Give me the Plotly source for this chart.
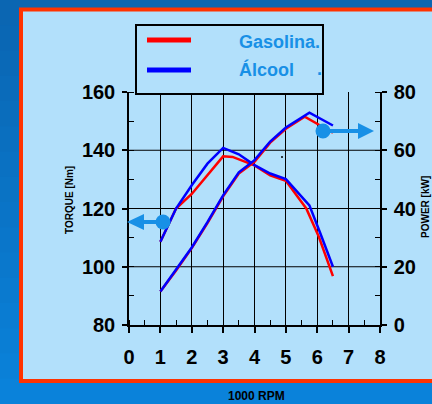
import plotly.graph_objects as go

# ---------------- data ----------------
series_names = ["Gasolina.", "Álcool"]
series_colors = ["#ff0000", "#0000ff"]

rpm_torque_gas = [1.0, 1.5, 2.0, 2.5, 3.0, 3.3, 4.0, 4.5, 5.0, 5.65, 6.05, 6.5]
torque_gas = [108.6, 120.0, 125.0, 131.5, 137.9, 137.7, 134.8, 131.4, 129.5, 120.0, 110.3, 96.8]

rpm_torque_alc = [1.0, 1.5, 2.0, 2.5, 3.0, 3.5, 4.0, 4.5, 5.0, 5.75, 6.1, 6.5]
torque_alc = [108.6, 120.0, 128.0, 135.4, 140.8, 138.6, 134.9, 132.0, 130.1, 121.1, 111.4, 100.0]

rpm_power_gas = [1.0, 1.5, 2.0, 2.5, 3.0, 3.5, 4.0, 4.5, 5.0, 5.6, 6.5]
power_gas = [11.5, 18.7, 26.4, 35.0, 44.2, 52.0, 56.0, 62.6, 67.4, 71.5, 66.0]

rpm_power_alc = [1.0, 1.5, 2.0, 2.5, 3.0, 3.5, 4.0, 4.5, 5.0, 5.75, 6.5]
power_alc = [11.5, 18.9, 26.6, 35.3, 44.5, 52.4, 56.6, 63.0, 67.8, 72.9, 68.5]

x_ticks = [0, 1, 2, 3, 4, 5, 6, 7, 8]
torque_ticks = [80, 100, 120, 140, 160]
power_ticks = [0, 20, 40, 60, 80]
torque_grid = [100, 120, 140]

x_title = "1000 RPM"
y_title = "TORQUE [Nm]"
y2_title = "POWER [kW]"

# ---------------- layout geometry (pixels) ----------------
WIDTH, HEIGHT = 432, 404
L, R, T, B = 129, 380, 92, 325
PW, PH = R - L, B - T


def px(xp):
    return (xp - L) / PW


def py(yp):
    return (B - yp) / PH


FILL = "#b2e0fb"
ARROW = "#1890e6"
SANS = "Liberation Sans, Arial, Helvetica"

fig = go.Figure()

traces = [
    (rpm_torque_gas, torque_gas, 0, "y"),
    (rpm_power_gas, power_gas, 0, "y2"),
    (rpm_torque_alc, torque_alc, 1, "y"),
    (rpm_power_alc, power_alc, 1, "y2"),
]
for xs, ys, idx, ax in traces:
    fig.add_trace(go.Scatter(
        x=xs, y=ys, mode="lines", yaxis=ax, name=series_names[idx],
        line=dict(color=series_colors[idx], width=2.5),
        showlegend=False, hoverinfo="skip"))

shapes = []
# background gradient
n = 16
c0, c1 = (11, 102, 178), (10, 130, 218)
for i in range(n):
    t = i / (n - 1)
    col = "rgb(%d,%d,%d)" % tuple(int(a + (b - a) * t) for a, b in zip(c0, c1))
    shapes.append(dict(type="rect", xref="paper", yref="paper",
                       x0=px(-5), x1=px(440), y0=py(HEIGHT * (i + 1) / n + 1),
                       y1=py(HEIGHT * i / n), fillcolor=col, line_width=0,
                       layer="below"))
# red framed light panel
shapes.append(dict(type="rect", xref="paper", yref="paper",
                   x0=px(21), x1=px(445), y0=py(381), y1=py(9.5),
                   fillcolor=FILL, line=dict(color="#ff3300", width=4),
                   layer="below"))
# horizontal grid lines
for g in torque_grid:
    shapes.append(dict(type="line", xref="paper", yref="y", x0=0, x1=1,
                       y0=g, y1=g, line=dict(color="black", width=1),
                       layer="below"))
# legend box
shapes.append(dict(type="rect", xref="paper", yref="paper",
                   x0=px(136), x1=px(323), y0=py(94), y1=py(25),
                   fillcolor=FILL, line=dict(color="black", width=2),
                   layer="above"))
for i, yy in enumerate([40, 70]):
    shapes.append(dict(type="line", xref="paper", yref="paper",
                       x0=px(147), x1=px(191), y0=py(yy), y1=py(yy),
                       line=dict(color=series_colors[i], width=5),
                       layer="above"))


def circle(cx, cy, r, color):
    return dict(type="circle", xref="paper", yref="paper",
                x0=px(cx - r), x1=px(cx + r), y0=py(cy + r), y1=py(cy - r),
                fillcolor=color, line_width=0, layer="above")


def seg(x0, y0, x1, y1, color, w):
    return dict(type="line", xref="paper", yref="paper",
                x0=px(x0), x1=px(x1), y0=py(y0), y1=py(y1),
                line=dict(color=color, width=w), layer="above")


def tri(points, color):
    path = "M " + " L ".join("%f,%f" % (px(a), py(b)) for a, b in points) + " Z"
    return dict(type="path", xref="paper", yref="paper", path=path,
                fillcolor=color, line_width=0, layer="above")


# left arrow (torque)
shapes.append(seg(163, 222, 142, 222, ARROW, 4))
shapes.append(tri([(127, 222), (144, 214), (144, 230)], ARROW))
shapes.append(circle(163, 222, 7.5, ARROW))
# right arrow (power)
shapes.append(seg(323, 131, 360, 131, ARROW, 4))
shapes.append(tri([(374, 131), (358, 123), (358, 139)], ARROW))
shapes.append(circle(323, 131, 7.5, ARROW))
# stray dot
shapes.append(circle(282, 157, 1, "black"))

annotations = []
annotations.append(dict(text=series_names[0], xref="paper", yref="paper",
                        x=px(237), y=py(42), xanchor="left", yanchor="middle",
                        showarrow=False,
                        font=dict(family=SANS, size=18, color=ARROW, weight="bold")))
annotations.append(dict(text=series_names[1], xref="paper", yref="paper",
                        x=px(237), y=py(69), xanchor="left", yanchor="middle",
                        showarrow=False,
                        font=dict(family=SANS, size=18, color=ARROW, weight="bold")))
annotations.append(dict(text=".", xref="paper", yref="paper",
                        x=px(315), y=py(69), xanchor="left", yanchor="middle",
                        showarrow=False,
                        font=dict(family=SANS, size=18, color=ARROW, weight="bold")))
annotations.append(dict(text=y_title, xref="paper", yref="paper",
                        x=px(69), y=py(200), textangle=-90,
                        xanchor="center", yanchor="middle", showarrow=False,
                        font=dict(family=SANS, size=10, color="black", weight="bold")))
annotations.append(dict(text=y2_title, xref="paper", yref="paper",
                        x=px(425), y=py(207), textangle=-90,
                        xanchor="center", yanchor="middle", showarrow=False,
                        font=dict(family=SANS, size=10, color="black", weight="bold")))
annotations.append(dict(text=x_title, xref="paper", yref="paper",
                        x=px(256), y=py(396), xanchor="center", yanchor="middle",
                        showarrow=False,
                        font=dict(family=SANS, size=12, color="black", weight="bold")))

tickfont = dict(family=SANS, size=20, color="black", weight="bold")

fig.update_layout(
    width=WIDTH, height=HEIGHT,
    margin=dict(l=L, r=WIDTH - R, t=T, b=HEIGHT - B, pad=0),
    paper_bgcolor="#0b6ab4", plot_bgcolor=FILL,
    shapes=shapes, annotations=annotations,
    xaxis=dict(range=[0, 8], tickvals=x_ticks, showline=True,
               linecolor="black", linewidth=1.5, ticks="outside", ticklen=6,
               tickwidth=1.5, tickcolor="black", showgrid=True,
               gridcolor="black", gridwidth=1, zeroline=False,
               tickfont=tickfont, ticklabelstandoff=7,
               minor=dict(ticks="inside", dtick=0.5, ticklen=5,
                          tickcolor="black", tickwidth=1, showgrid=False)),
    yaxis=dict(range=[80, 160], tickvals=torque_ticks, showline=True,
               linecolor="black", linewidth=1.5, ticks="outside", ticklen=5,
               tickwidth=1.5, tickcolor="black", showgrid=False,
               zeroline=False, tickfont=tickfont, ticklabelstandoff=3,
               minor=dict(ticks="inside", dtick=10, ticklen=5,
                          tickcolor="black", tickwidth=1, showgrid=False)),
    yaxis2=dict(range=[0, 80], tickvals=power_ticks, overlaying="y",
                side="right", showline=True, linecolor="black",
                linewidth=1.5, ticks="outside", ticklen=5, tickwidth=1.5,
                tickcolor="black", showgrid=False, zeroline=False,
                tickfont=tickfont, ticklabelstandoff=3,
                minor=dict(ticks="inside", dtick=10, ticklen=5,
                           tickcolor="black", tickwidth=1, showgrid=False)),
)

fig.write_html(
    "out.html",
    config={"displayModeBar": False},
    post_script="document.body.style.margin='0px';"
                "document.body.style.background='#0b6ab4';",
)
